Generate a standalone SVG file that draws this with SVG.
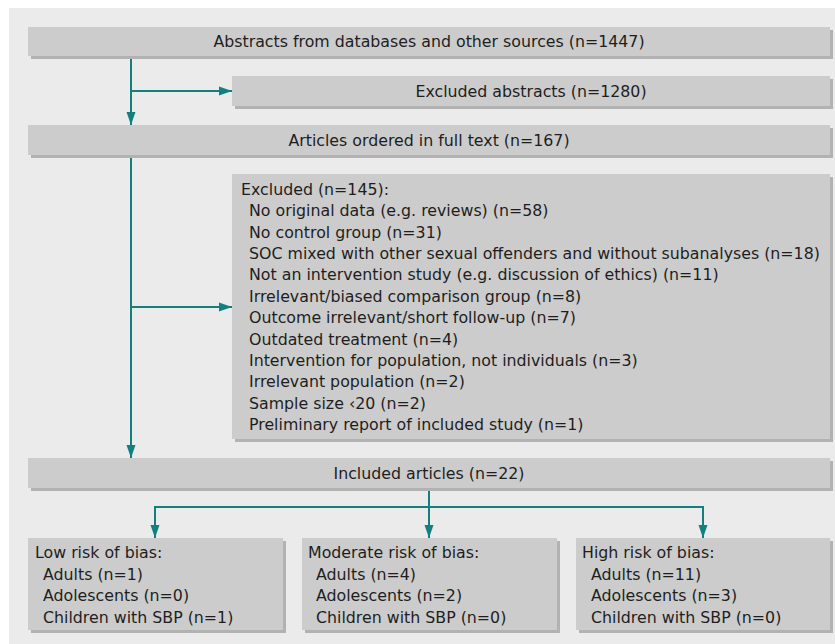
<svg xmlns="http://www.w3.org/2000/svg" width="835" height="644" viewBox="0 0 835 644">
<defs>
<style>
.bg{fill:#ebebeb}
.sh{fill:#b2b2b2}
.bx{fill:#cccccc}
.t{font-family:"DejaVu Sans","Liberation Sans",sans-serif;font-size:15.8px;fill:#1e1e1e}
.c{text-anchor:middle}
.ln{stroke:#11807f;stroke-width:2;fill:none}
</style>
<marker id="ah" markerWidth="13" markerHeight="10" refX="13" refY="5" orient="auto" markerUnits="userSpaceOnUse">
<path d="M0,0.5 L13,5 L0,9.5 z" fill="#11807f"/>
</marker>
</defs>
<rect x="0" y="0" width="835" height="644" fill="#ffffff"/>
<rect class="bg" x="9" y="8" width="826" height="636"/>

<g id="connectors">
<line class="ln" x1="131" y1="57" x2="131" y2="125" marker-end="url(#ah)"/>
<line class="ln" x1="131" y1="91" x2="232" y2="91" marker-end="url(#ah)"/>
<line class="ln" x1="131" y1="156" x2="131" y2="458" marker-end="url(#ah)"/>
<line class="ln" x1="131" y1="307" x2="232" y2="307" marker-end="url(#ah)"/>
<line class="ln" x1="429" y1="489" x2="429" y2="538" marker-end="url(#ah)"/>
<polyline class="ln" points="155,538 155,507 703,507 703,538" marker-end="url(#ah)"/>
<line class="ln" x1="155" y1="507" x2="155" y2="538" marker-end="url(#ah)"/>
</g>

<g id="n-abstracts">
<rect class="sh" x="31" y="30" width="802" height="29"/>
<rect class="bx" x="28" y="27" width="802" height="29"/>
<text class="t c" x="429" y="47">Abstracts from databases and other sources (n=1447)</text>
</g>

<g id="n-excluded-abstracts">
<rect class="sh" x="235" y="79" width="598" height="30"/>
<rect class="bx" x="232" y="76" width="598" height="30"/>
<text class="t c" x="531" y="96.5">Excluded abstracts (n=1280)</text>
</g>

<g id="n-fulltext">
<rect class="sh" x="31" y="128" width="802" height="30"/>
<rect class="bx" x="28" y="125" width="802" height="30"/>
<text class="t c" x="429" y="145.5">Articles ordered in full text (n=167)</text>
</g>

<g id="n-excluded">
<rect class="sh" x="235" y="177" width="598" height="265"/>
<rect class="bx" x="232" y="174" width="598" height="265"/>
<text class="t" x="241" y="195">Excluded (n=145):</text>
<text class="t" x="249" y="216.4">No original data (e.g. reviews) (n=58)</text>
<text class="t" x="249" y="237.7">No control group (n=31)</text>
<text class="t" x="249" y="259.1">SOC mixed with other sexual offenders and without subanalyses (n=18)</text>
<text class="t" x="249" y="280.4">Not an intervention study (e.g. discussion of ethics) (n=11)</text>
<text class="t" x="249" y="301.8">Irrelevant/biased comparison group (n=8)</text>
<text class="t" x="249" y="323.1">Outcome irrelevant/short follow-up (n=7)</text>
<text class="t" x="249" y="344.5">Outdated treatment (n=4)</text>
<text class="t" x="249" y="365.8">Intervention for population, not individuals (n=3)</text>
<text class="t" x="249" y="387.2">Irrelevant population (n=2)</text>
<text class="t" x="249" y="408.5">Sample size ‹20 (n=2)</text>
<text class="t" x="249" y="429.9">Preliminary report of included study (n=1)</text>
</g>

<g id="n-included">
<rect class="sh" x="31" y="461" width="802" height="30"/>
<rect class="bx" x="28" y="458" width="802" height="30"/>
<text class="t c" x="429" y="478.5">Included articles (n=22)</text>
</g>

<g id="n-low">
<rect class="sh" x="31" y="541" width="255" height="92"/>
<rect class="bx" x="28" y="538" width="255" height="92"/>
<text class="t" x="35" y="558">Low risk of bias:</text>
<text class="t" x="43" y="579.5">Adults (n=1)</text>
<text class="t" x="43" y="601">Adolescents (n=0)</text>
<text class="t" x="43" y="622.5">Children with SBP (n=1)</text>
</g>

<g id="n-moderate">
<rect class="sh" x="305" y="541" width="255" height="92"/>
<rect class="bx" x="302" y="538" width="255" height="92"/>
<text class="t" x="308" y="558">Moderate risk of bias:</text>
<text class="t" x="316" y="579.5">Adults (n=4)</text>
<text class="t" x="316" y="601">Adolescents (n=2)</text>
<text class="t" x="316" y="622.5">Children with SBP (n=0)</text>
</g>

<g id="n-high">
<rect class="sh" x="579" y="541" width="254" height="92"/>
<rect class="bx" x="576" y="538" width="254" height="92"/>
<text class="t" x="582" y="558">High risk of bias:</text>
<text class="t" x="591" y="579.5">Adults (n=11)</text>
<text class="t" x="591" y="601">Adolescents (n=3)</text>
<text class="t" x="591" y="622.5">Children with SBP (n=0)</text>
</g>
</svg>
